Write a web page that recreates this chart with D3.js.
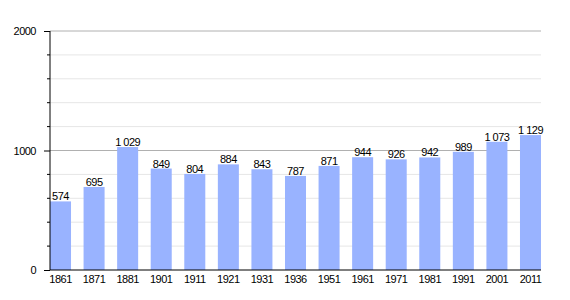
<!DOCTYPE html>
<html>
<head>
<meta charset="utf-8">
<script src="https://cdn.jsdelivr.net/npm/d3@7"></script>
<style>
body{margin:0;background:#fff;}
text{font-family:"Liberation Sans",Arial,sans-serif;letter-spacing:-0.5px;}
</style>
</head>
<body>
<script>
var years = ["1861","1871","1881","1901","1911","1921","1931","1936","1951","1961","1971","1981","1991","2001","2011"];
var population = [574,695,1029,849,804,884,843,787,871,944,926,942,989,1073,1129];
var majorTicks = [0,1000,2000];
var minorTicks = [200,400,600,800,1200,1400,1600,1800];

var margin = {top: 31, right: 29, bottom: 30, left: 50},
    width = 570 - margin.left - margin.right,
    height = 300 - margin.top - margin.bottom;

var svg = d3.select("body").append("svg")
    .attr("width", 570)
    .attr("height", 300)
  .append("g")
    .attr("transform", "translate(" + margin.left + "," + margin.top + ")");

var x = d3.scaleBand().domain(years).range([0, width]).paddingInner(0.374).paddingOuter(0);
var y = d3.scaleLinear().domain([0, 2000]).range([height, 0]);

// thousands separated by a space, like the original
var fmt = function(d){ return d >= 1000 ? Math.floor(d/1000) + "\u00a0" + String(d%1000).padStart(3,"0") : String(d); };

// grid
svg.selectAll(".minor").data(minorTicks).enter().append("line")
    .attr("x1", 0).attr("x2", width)
    .attr("y1", function(d){ return y(d); }).attr("y2", function(d){ return y(d); })
    .attr("stroke", "#e6e6e6").attr("stroke-width", 1);
svg.selectAll(".major").data([1000,2000]).enter().append("line")
    .attr("x1", 0).attr("x2", width)
    .attr("y1", function(d){ return y(d); }).attr("y2", function(d){ return y(d); })
    .attr("stroke", "#b0b0b0").attr("stroke-width", 1);

// bars
svg.selectAll(".bar").data(population).enter().append("rect")
    .attr("x", function(d,i){ return x(years[i]); })
    .attr("y", function(d){ return y(d); })
    .attr("width", x.bandwidth())
    .attr("height", function(d){ return height - y(d); })
    .attr("fill", "#99b3ff");

svg.selectAll(".val").data(population).enter().append("text")
    .attr("x", function(d,i){ return x(years[i]) + x.bandwidth()/2; })
    .attr("y", function(d){ return y(d) - 1; })
    .attr("text-anchor", "middle")
    .attr("font-size", "11px")
    .attr("fill", "#000")
    .text(fmt);

// axes
var yAxis = svg.append("g").call(d3.axisLeft(y).tickValues(majorTicks).tickSize(6).tickPadding(8).tickFormat(d3.format("d")));
yAxis.select(".domain").remove();
yAxis.selectAll("text").attr("font-size", "11px").attr("font-family", "Liberation Sans, Arial, sans-serif");
svg.selectAll(".mtick").data(minorTicks).enter().append("line")
    .attr("x1", -3).attr("x2", 0)
    .attr("y1", function(d){ return y(d); }).attr("y2", function(d){ return y(d); })
    .attr("stroke", "#000");
svg.append("line").attr("x1", 0).attr("x2", 0).attr("y1", 0).attr("y2", height).attr("stroke", "#000");

var xAxis = svg.append("g").attr("transform", "translate(0," + height + ")")
    .call(d3.axisBottom(x).tickSize(0).tickPadding(5));
xAxis.select(".domain").remove();
xAxis.selectAll("text").attr("font-size", "11px").attr("font-family", "Liberation Sans, Arial, sans-serif");
svg.append("line").attr("x1", 0).attr("x2", width).attr("y1", height).attr("y2", height).attr("stroke", "#000").attr("stroke-width", 1.2);
</script>
</body>
</html>
